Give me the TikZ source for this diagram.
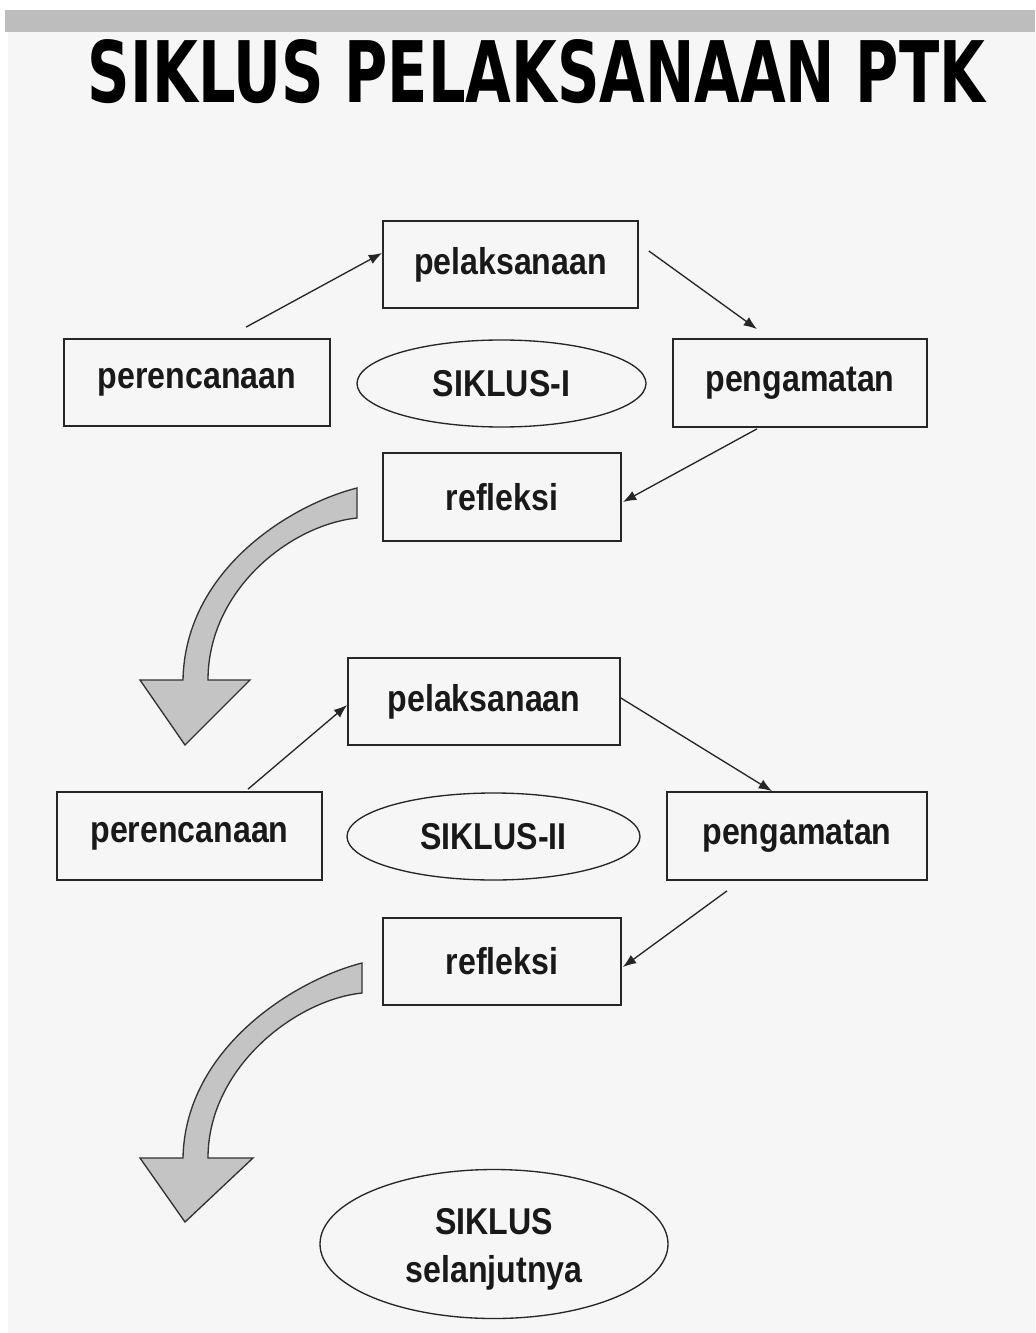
\documentclass[tikz,border=0pt]{standalone}
\usepackage{fontspec}
\setmainfont{Liberation Sans}
\newfontfamily\labfont[FakeStretch=0.86]{Liberation Sans}
\newfontfamily\titlefont{DejaVu Sans}
\usetikzlibrary{shapes.geometric,arrows.meta,calc}
\definecolor{bg}{HTML}{F6F6F6}
\definecolor{bar}{HTML}{BDBDBD}
\definecolor{blockfill}{HTML}{C4C4C4}
\begin{document}
\begin{tikzpicture}[x=0.75pt,y=-0.75pt,
  lab/.style={font=\labfont\bfseries\fontsize{28}{30}\selectfont, text=black!90},
  boxnode/.style={lab, draw=black!85, line width=1.3pt, fill=bg, rectangle, inner sep=0pt},
  ellnode/.style={lab, draw=black!85, line width=1pt, fill=bg, ellipse, inner sep=0pt, align=center},
  conn/.style={draw=black!85, line width=1pt, -{Latex[length=10pt,width=7.5pt]}},
  blockarrow/.style={fill=blockfill, draw=black!80, line width=1pt, line join=miter}
]
\useasboundingbox (0,0) rectangle (1035,1333);
\fill[white] (0,0) rectangle (1035,1333);
\fill[bg] (8,10) rectangle (1035,1333);
\fill[bar] (5,10) rectangle (1035,32);

% title
\node (title) at (536.5,71.5) {\resizebox{672.75pt}{47.25pt}{\titlefont\bfseries SIKLUS PELAKSANAAN PTK}};

% cycle I
\node[boxnode, minimum width=191.25pt, minimum height=65.25pt] (pel1) at (510.5,264.5) {pelaksanaan};
\node[boxnode, minimum width=199.5pt, minimum height=65.25pt] (per1) at (197,382.5) {perencanaan};
\node[ellnode, minimum width=216.75pt, minimum height=65.25pt] (sik1) at (501.5,383.5) {SIKLUS-I};
\node[boxnode, minimum width=190.5pt, minimum height=66pt] (pen1) at (800,383) {pengamatan};
\node[boxnode, minimum width=178.5pt, minimum height=66pt] (ref1) at (502,497) {refleksi};

\draw[conn] ($(per1.north)+(49,-11)$) -- ($(pel1.west)+(0,-11.5)$);
\draw[conn] ($(pel1.east)+(10,-13.5)$) -- ($(pen1.north)+(-43,-9)$);
\draw[conn] ($(pen1.south)+(-43,1)$) -- ($(ref1.east)+(1,5)$);

% cycle II
\node[boxnode, minimum width=204pt, minimum height=65.25pt] (pel2) at (484,701.5) {pelaksanaan};
\node[boxnode, minimum width=198.75pt, minimum height=66pt] (per2) at (189.5,836) {perencanaan};
\node[ellnode, minimum width=219.75pt, minimum height=65.25pt] (sik2) at (493.5,836.5) {SIKLUS-II};
\node[boxnode, minimum width=195pt, minimum height=66pt] (pen2) at (797,836) {pengamatan};
\node[boxnode, minimum width=178.5pt, minimum height=65.25pt] (ref2) at (502,961.5) {refleksi};

\draw[conn] ($(per2.north)+(58.5,-2)$) -- ($(pel2.west)+(0,3.5)$);
\draw[conn] ($(pel2.east)+(0,-3.5)$) -- ($(pen2.north)+(-25,0)$);
\draw[conn] ($(pen2.south)+(-70,10)$) -- ($(ref2.east)+(1,5.5)$);

% next cycle
\node[ellnode, minimum width=261pt, minimum height=111.75pt] (sik3) at (494,1244) {\rule{0pt}{28pt}SIKLUS\\[6pt]selanjutnya};

% curved block arrows
\path[blockarrow] (357,488) .. controls (290,505) and (185,570) .. (183,680)
  -- (140,680) -- (185,745) -- (250,680) -- (208,680)
  .. controls (208,590) and (290,525) .. (357,518) -- cycle;
\path[blockarrow] (362,963) .. controls (295,980) and (185,1048) .. (183,1158)
  -- (140,1158) -- (185,1222) -- (253,1158) -- (208,1158)
  .. controls (208,1068) and (295,1000) .. (362,993) -- cycle;
\end{tikzpicture}
\end{document}
